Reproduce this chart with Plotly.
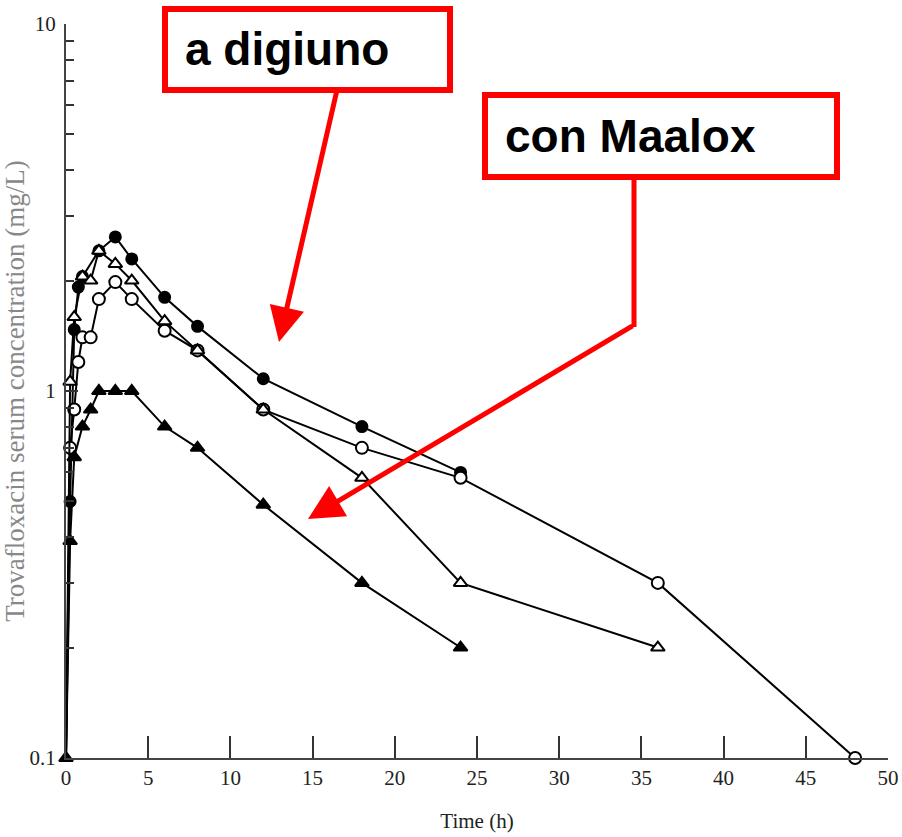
import plotly.graph_objects as go

# ---- data ----
# fasting (filled circles)
t_fast = [0, 0.25, 0.5, 0.75, 1, 2, 3, 4, 6, 8, 12, 18, 24]
c_fast = [0.1, 0.50, 1.47, 1.92, 2.05, 2.41, 2.63, 2.29, 1.80, 1.50, 1.08, 0.80, 0.60]

# open circles
t_oc = [0, 0.25, 0.5, 0.75, 1, 1.5, 2, 3, 4, 6, 8, 12, 18, 24, 36, 48]
c_oc = [0.1, 0.70, 0.89, 1.20, 1.40, 1.40, 1.78, 1.98, 1.78, 1.46, 1.29, 0.89, 0.70, 0.58, 0.30, 0.10]

# open triangles
t_ot = [0, 0.25, 0.5, 1, 1.5, 2, 3, 4, 6, 8, 12, 18, 24, 36]
c_ot = [0.1, 1.06, 1.59, 2.05, 2.00, 2.41, 2.22, 2.00, 1.55, 1.29, 0.89, 0.58, 0.30, 0.20]

# with Maalox (filled triangles)
t_maalox = [0, 0.25, 0.5, 1, 1.5, 2, 3, 4, 6, 8, 12, 18, 24]
c_maalox = [0.1, 0.39, 0.66, 0.80, 0.89, 1.00, 1.00, 1.00, 0.80, 0.70, 0.49, 0.30, 0.20]

x_ticks = [0, 5, 10, 15, 20, 25, 30, 35, 40, 45, 50]
y_ticks = [0.1, 1, 10]
y_ticktext = ["0.1", "1", "10"]
y_minor = [0.2, 0.3, 0.4, 0.5, 0.6, 0.7, 0.8, 0.9, 2, 3, 4, 5, 6, 7, 8, 9]

label_fast = "a digiuno"
label_maalox = "con Maalox"

# ---- layout geometry (pixels) ----
W, H = 902, 837
ML, MR, MT, MB = 66, 14, 24, 79
PW, PH = W - ML - MR, H - MT - MB


def px(xp):
    return (xp - ML) / PW


def py(yp):
    return (H - MB - yp) / PH


fig = go.Figure()


def add(t, c, symbol, fill, size, hide_first=True):
    sizes = [0 if (i == 0 and hide_first) else size for i in range(len(t))]
    fig.add_trace(go.Scatter(
        x=t, y=c, mode="lines+markers",
        line=dict(color="black", width=2),
        marker=dict(symbol=symbol, size=sizes, color=fill, opacity=1,
                    line=dict(color="black", width=2)),
        cliponaxis=False, showlegend=False, hoverinfo="x+y"))


add(t_fast, c_fast, "circle", "black", 11)
add(t_oc, c_oc, "circle", "white", 12)
add(t_ot, c_ot, "triangle-up", "white", 12)
add(t_maalox, c_maalox, "triangle-up", "black", 12, hide_first=False)

red = "#ff0000"
shapes = [
    dict(type="rect", xref="paper", yref="paper",
         x0=px(165), x1=px(450), y0=py(90), y1=py(9),
         line=dict(color=red, width=6), fillcolor="white"),
    dict(type="rect", xref="paper", yref="paper",
         x0=px(485), x1=px(837), y0=py(177), y1=py(95),
         line=dict(color=red, width=6), fillcolor="white"),
    dict(type="line", xref="paper", yref="paper",
         x0=px(634), x1=px(634), y0=py(180), y1=py(327),
         line=dict(color=red, width=5)),
]

annotations = [
    dict(text=label_fast, xref="paper", yref="paper", x=px(183), y=py(49),
         xanchor="left", yanchor="middle", showarrow=False,
         font=dict(family="Liberation Sans, Arial", size=46, color="black", weight="bold")),
    dict(text=label_maalox, xref="paper", yref="paper", x=px(503), y=py(136),
         xanchor="left", yanchor="middle", showarrow=False,
         font=dict(family="Liberation Sans, Arial", size=46, color="black", weight="bold")),
    dict(text="", xref="paper", yref="paper", x=px(279), y=py(342),
         ax=337 - 279, ay=90 - 342, showarrow=True, arrowhead=2,
         arrowsize=1.4, arrowwidth=5, arrowcolor=red, standoff=0),
    dict(text="", xref="paper", yref="paper", x=px(308), y=py(519),
         ax=634 - 308, ay=325 - 519, showarrow=True, arrowhead=2,
         arrowsize=1.4, arrowwidth=5, arrowcolor=red, standoff=0),
]

serif = "Liberation Serif, Times New Roman, serif"

fig.update_layout(
    width=W, height=H, autosize=False,
    margin=dict(l=ML, r=MR, t=MT, b=MB, autoexpand=False),
    paper_bgcolor="white", plot_bgcolor="white",
    font=dict(family=serif, color="#222"),
    shapes=shapes, annotations=annotations,
    xaxis=dict(
        range=[0, 50], tickmode="array", tickvals=x_ticks, automargin=False,
        ticks="inside", ticklen=22, tickwidth=1.5, tickcolor="#333",
        showline=True, linecolor="#444", linewidth=2,
        showgrid=False, zeroline=False,
        tickfont=dict(family=serif, size=21, color="#222"),
        title=dict(text="Time (h)", font=dict(family=serif, size=21, color="#222"), standoff=24),
    ),
    yaxis=dict(
        type="log", range=[-1, 1], tickmode="array", automargin=False,
        tickvals=y_ticks, ticktext=y_ticktext,
        ticks="inside", ticklen=12, tickwidth=1.5, tickcolor="#333",
        minor=dict(ticks="inside", ticklen=8, tickwidth=1.5, tickcolor="#333",
                   tickmode="array", tickvals=y_minor, showgrid=False),
        showline=True, linecolor="#444", linewidth=2,
        showgrid=False, zeroline=False,
        tickfont=dict(family=serif, size=21, color="#222"),
        ticklabelstandoff=4,
        title=dict(text="Trovafloxacin serum concentration (mg/L)",
                   font=dict(family=serif, size=27, color="#888"), standoff=5),
    ),
)

fig.write_html(
    "out.html",
    config={"displayModeBar": False},
    post_script="document.body.style.margin='0';document.body.style.overflow='hidden';",
)
